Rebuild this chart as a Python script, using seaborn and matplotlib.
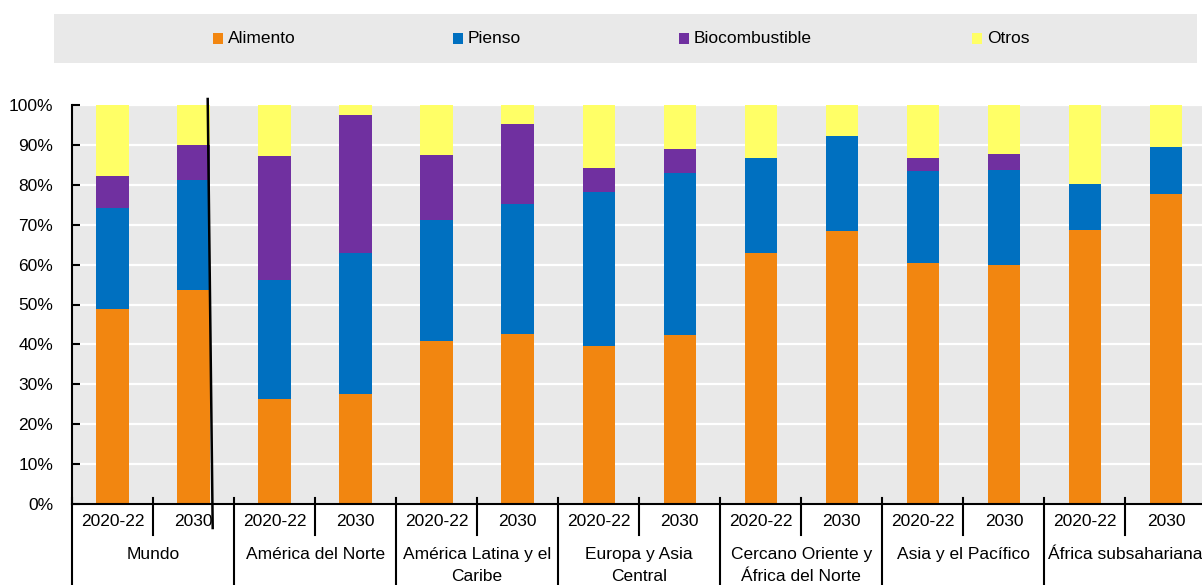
import numpy as np
import pandas as pd
import matplotlib
matplotlib.use("Agg")
import matplotlib.pyplot as plt
import seaborn as sns
from matplotlib import font_manager
from matplotlib.lines import Line2D
from matplotlib.patches import Rectangle
from matplotlib.transforms import blended_transform_factory

# ---- data -------------------------------------------------------------
regions = ["Mundo", "América del Norte", "América Latina y el\nCaribe",
           "Europa y Asia\nCentral", "Cercano Oriente y\nÁfrica del Norte",
           "Asia y el Pacífico", "África subsahariana"]
periods = ["2020-22", "2030"]
series = ["Alimento", "Pienso", "Biocombustible", "Otros"]

# shares in %, one value per bar (region x period, in order)
alimento = [48.8, 53.6, 26.4, 27.6, 40.8, 42.5, 39.7, 42.3, 63.0, 68.5, 60.3, 60.0, 68.6, 77.6]
pienso = [25.5, 27.6, 29.8, 35.2, 30.3, 32.6, 38.4, 40.6, 23.7, 23.8, 23.2, 23.8, 11.5, 11.8]
biocombustible = [7.9, 8.9, 31.1, 34.7, 16.3, 20.1, 6.2, 6.1, 0.0, 0.0, 3.1, 3.8, 0.0, 0.0]
otros = [17.8, 9.9, 12.7, 2.5, 12.6, 4.8, 15.7, 11.0, 13.3, 7.7, 13.4, 12.4, 19.9, 10.6]

colors = ["#F28610", "#0070C0", "#7030A0", "#FFFF66"]

# ---- fonts ------------------------------------------------------------
available = {f.name for f in font_manager.fontManager.ttflist}
if "Liberation Sans Narrow" in available:
    family, fs = "Liberation Sans Narrow", 15
else:
    family, fs = "Liberation Sans", 12.5
plt.rcParams["font.family"] = [family, "DejaVu Sans"]

# ---- table ------------------------------------------------------------
keys = [f"{r}|{p}" for r in regions for p in periods]
df = pd.DataFrame({"bar": keys, "Alimento": alimento, "Pienso": pienso,
                   "Biocombustible": biocombustible, "Otros": otros})
cum = df[series].cumsum(axis=1)

W, H = 1202, 585
fig = plt.figure(figsize=(W / 100, H / 100), dpi=100)
ax = fig.add_axes([72 / W, 1 - 504 / H, 1134.5 / W, 399 / H])
ax.set_facecolor("#E9E9E9")

# stacked bars: draw cumulative totals from the top segment down
for name, col in reversed(list(zip(series, colors))):
    sns.barplot(x=df["bar"], y=cum[name], order=keys, color=col, width=0.4,
                saturation=1, errorbar=None, linewidth=0, ax=ax)

ax.set_xlim(-0.5, len(keys) - 0.5)
ax.set_ylim(0, 100)
ax.set_xlabel("")
ax.set_ylabel("")
ax.set_axisbelow(True)
ax.yaxis.grid(True, color="white", linewidth=1.6)
ax.xaxis.grid(False)
for s in ["top", "right"]:
    ax.spines[s].set_visible(False)
for s in ["left", "bottom"]:
    ax.spines[s].set_color("black")
    ax.spines[s].set_linewidth(1.5)

ax.set_yticks(range(0, 101, 10))
ax.set_yticklabels([f"{v}%" for v in range(0, 101, 10)], fontsize=fs)
ax.tick_params(axis="y", direction="in", length=6, width=1.5, pad=13.5, colors="black")

ax.set_xticks(range(len(keys)))
ax.set_xticklabels([p for _ in regions for p in periods], fontsize=fs)
ax.tick_params(axis="x", length=0, pad=7.5)

trans = blended_transform_factory(ax.transData, ax.transAxes)
# separators between periods and between regions
for g in range(len(regions)):
    ax.plot([2 * g + 0.5] * 2, [0.015, -0.077], transform=trans, color="black",
            lw=1.5, clip_on=False)
    ax.plot([2 * g - 0.5] * 2, [0.015, -0.25], transform=trans, color="black",
            lw=1.5, clip_on=False)
    ax.text(2 * g + 0.5, -0.108, regions[g], transform=trans, ha="center",
            va="top", fontsize=fs, linespacing=1.55)

# dividing line next to the world bars
fig.add_artist(Line2D([207.7 / W, 212.7 / W], [1 - 99 / H, 1 - 528 / H],
                      color="black", lw=1.8))

# ---- legend band ------------------------------------------------------
fig.add_artist(Rectangle((54 / W, 1 - 63 / H), (1197 - 54) / W, 49 / H,
                         facecolor="#E9E9E9", edgecolor="none"))
legend_x = [212.7, 453, 679, 972]
for x0, name, col in zip(legend_x, series, colors):
    fig.add_artist(Rectangle((x0 / W, 1 - 44 / H), 10 / W, 11 / H,
                             facecolor=col, edgecolor="none"))
    fig.text((x0 + 15) / W, 1 - 38.5 / H, name, ha="left", va="center", fontsize=fs)

fig.savefig("out.png", dpi=100)
